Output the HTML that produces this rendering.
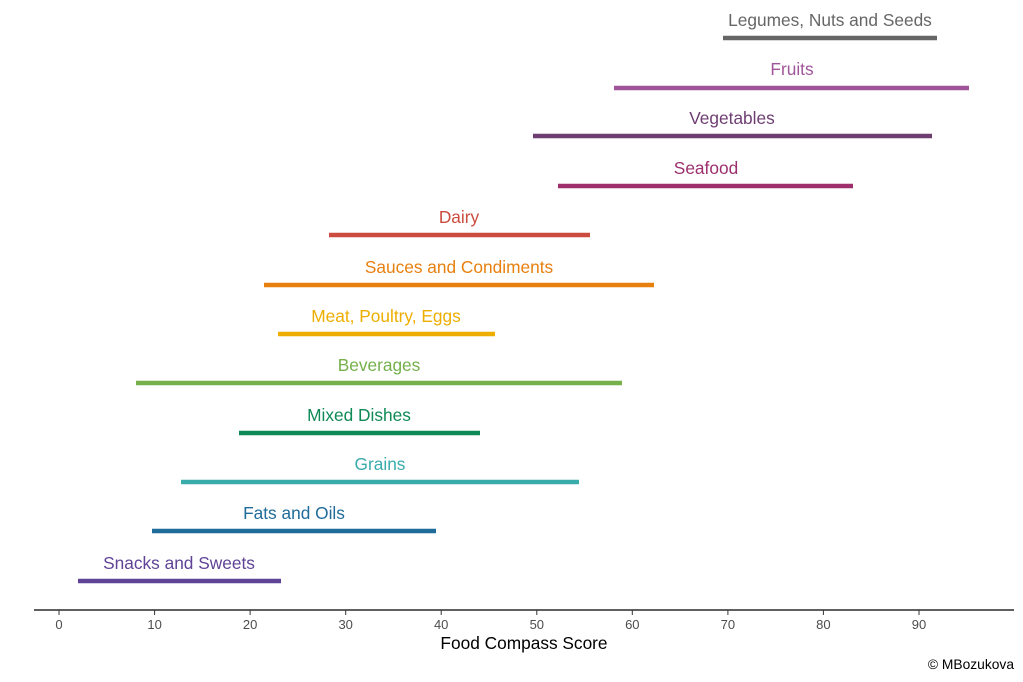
<!DOCTYPE html>
<html><head><meta charset="utf-8"><style>
html,body{margin:0;padding:0;background:#fff;}
svg{display:block;font-family:"Liberation Sans",Arial,sans-serif;}
</style></head><body>
<svg width="1023" height="682" viewBox="0 0 1023 682">
<g stroke-width="4.5" fill="none">
<line x1="723" y1="38" x2="937" y2="38" stroke="#666666"/>
<line x1="614" y1="88" x2="969" y2="88" stroke="#a0559a"/>
<line x1="533" y1="136" x2="932" y2="136" stroke="#6e3d72"/>
<line x1="558" y1="186" x2="853" y2="186" stroke="#9c2f6c"/>
<line x1="329" y1="235" x2="590" y2="235" stroke="#cb4b3e"/>
<line x1="264" y1="285" x2="654" y2="285" stroke="#e8800f"/>
<line x1="278" y1="334" x2="495" y2="334" stroke="#eeae00"/>
<line x1="136" y1="383" x2="622" y2="383" stroke="#75b04b"/>
<line x1="239" y1="433" x2="480" y2="433" stroke="#0f8a56"/>
<line x1="181" y1="482" x2="579" y2="482" stroke="#3aabab"/>
<line x1="152" y1="531" x2="436" y2="531" stroke="#1f6b9a"/>
<line x1="78" y1="581" x2="281" y2="581" stroke="#5e4396"/>
</g>
<g font-size="17.3" text-anchor="middle">
<text x="830" y="26" fill="#666666">Legumes, Nuts and Seeds</text>
<text x="792" y="75" fill="#a0559a">Fruits</text>
<text x="732" y="124" fill="#6e3d72">Vegetables</text>
<text x="706" y="174" fill="#9c2f6c">Seafood</text>
<text x="459" y="223" fill="#cb4b3e">Dairy</text>
<text x="459" y="273" fill="#e8800f">Sauces and Condiments</text>
<text x="386" y="322" fill="#eeae00">Meat, Poultry, Eggs</text>
<text x="379" y="371" fill="#75b04b">Beverages</text>
<text x="359" y="421" fill="#0f8a56">Mixed Dishes</text>
<text x="380" y="470" fill="#3aabab">Grains</text>
<text x="294" y="519" fill="#1f6b9a">Fats and Oils</text>
<text x="179" y="569" fill="#5e4396">Snacks and Sweets</text>
</g>
<line x1="34" y1="610" x2="1014" y2="610" stroke="#000" stroke-width="1.3"/>
<g stroke="#333" stroke-width="1">
<line x1="59" y1="610" x2="59" y2="615"/><line x1="154.6" y1="610" x2="154.6" y2="615"/>
<line x1="250.1" y1="610" x2="250.1" y2="615"/><line x1="345.7" y1="610" x2="345.7" y2="615"/>
<line x1="441.2" y1="610" x2="441.2" y2="615"/><line x1="536.8" y1="610" x2="536.8" y2="615"/>
<line x1="632.3" y1="610" x2="632.3" y2="615"/><line x1="727.9" y1="610" x2="727.9" y2="615"/>
<line x1="823.4" y1="610" x2="823.4" y2="615"/><line x1="919" y1="610" x2="919" y2="615"/>
</g>
<g font-size="13" fill="#4d4d4d" text-anchor="middle">
<text x="59" y="629">0</text><text x="154.6" y="629">10</text><text x="250.1" y="629">20</text>
<text x="345.7" y="629">30</text><text x="441.2" y="629">40</text><text x="536.8" y="629">50</text>
<text x="632.3" y="629">60</text><text x="727.9" y="629">70</text><text x="823.4" y="629">80</text>
<text x="919" y="629">90</text>
</g>
<text x="524" y="649" font-size="17.3" text-anchor="middle" fill="#000">Food Compass Score</text>
<text x="1014" y="669" font-size="13.8" text-anchor="end" fill="#000">© MBozukova</text>
</svg>
</body></html>
